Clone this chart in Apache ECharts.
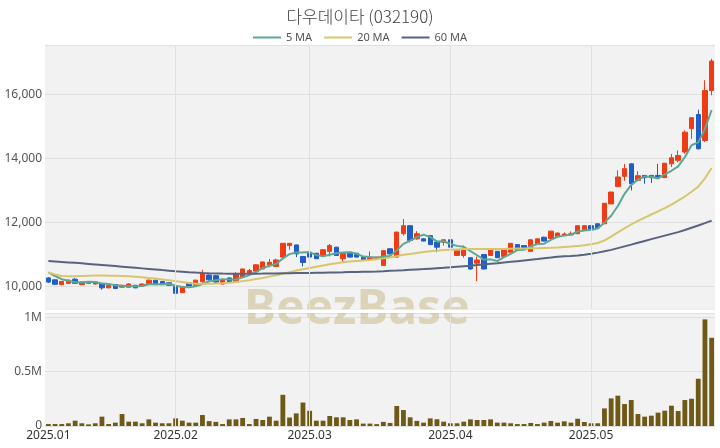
<!DOCTYPE html>
<html><head><meta charset="utf-8">
<script src="https://cdn.jsdelivr.net/npm/echarts@6/dist/echarts.min.js"></script>
<style>html,body{margin:0;padding:0;background:#fff}#c{width:720px;height:448px}</style>
</head><body><div id="c"></div>
<script>
const title = '다우데이타 (032190)';
const dates = [
'2025-01-02','2025-01-03','2025-01-06','2025-01-07','2025-01-08','2025-01-09','2025-01-10','2025-01-13','2025-01-14','2025-01-15',
'2025-01-16','2025-01-17','2025-01-20','2025-01-21','2025-01-22','2025-01-23','2025-01-24','2025-01-27','2025-01-31',
'2025-02-03','2025-02-04','2025-02-05','2025-02-06','2025-02-07','2025-02-10','2025-02-11','2025-02-12','2025-02-13','2025-02-14',
'2025-02-17','2025-02-18','2025-02-19','2025-02-20','2025-02-21','2025-02-24','2025-02-25','2025-02-26','2025-02-27','2025-02-28',
'2025-03-03','2025-03-04','2025-03-05','2025-03-06','2025-03-07','2025-03-10','2025-03-11','2025-03-12','2025-03-13','2025-03-14',
'2025-03-17','2025-03-18','2025-03-19','2025-03-20','2025-03-21','2025-03-24','2025-03-25','2025-03-26','2025-03-27','2025-03-28','2025-03-31',
'2025-04-01','2025-04-02','2025-04-03','2025-04-04','2025-04-07','2025-04-08','2025-04-09','2025-04-10','2025-04-11','2025-04-14',
'2025-04-15','2025-04-16','2025-04-17','2025-04-18','2025-04-21','2025-04-22','2025-04-23','2025-04-24','2025-04-25','2025-04-28','2025-04-29',
'2025-05-02','2025-05-07','2025-05-08','2025-05-09','2025-05-12','2025-05-13','2025-05-14','2025-05-15','2025-05-16','2025-05-19',
'2025-05-20','2025-05-21','2025-05-22','2025-05-23','2025-05-26','2025-05-27','2025-05-28','2025-05-29','2025-05-30'
];
const opens = [
10270,10210,10060,10100,10230,10060,10100,10080,10100,9960,
10060,9980,9980,10040,10020,10080,10200,10160,10120,10000,
9810,10120,10040,10150,10360,10340,10080,10270,10140,10290,
10420,10480,10550,10680,10630,10920,11280,11300,10940,11070,
11040,10970,11100,11230,10870,11070,11040,10920,10840,10860,
10660,11180,10920,11650,11900,11490,11490,11590,11390,11380,
11460,10970,10970,10900,10730,11000,10970,11100,10940,11070,
11310,11280,11100,11330,11540,11500,11560,11600,11610,11650,
11770,11900,11960,11960,12580,13120,13440,13830,13320,13470,
13470,13470,13400,13830,13940,14200,14930,15370,14560,16120
];
const closes = [
10140,10070,10160,10200,10100,10140,10140,10140,9960,10040,
9940,10040,10080,9960,10080,10200,10060,10060,10040,9790,
10000,10020,10200,10400,10210,10140,10210,10140,10400,10550,
10500,10680,10770,10760,10830,11350,11350,11020,10750,10920,
10870,11150,11280,10970,11040,10920,10920,10830,10900,10920,
11120,11020,11700,11900,11440,11650,11420,11310,11230,11460,
11230,11120,11160,10550,10830,10550,11150,10900,11150,11350,
11150,11180,11460,11490,11420,11730,11670,11640,11650,11900,
11900,11770,11830,12600,12950,13420,13680,13210,13460,13400,
13400,13400,13850,14020,14090,14820,15270,14300,16120,17040
];
const lows = [
10110,10050,10040,10090,10090,10050,10090,10070,9900,9950,
9920,9970,9970,9950,10010,10070,10050,10050,10030,9720,
9800,10010,10030,10080,10190,10120,10070,10120,10130,10280,
10400,10470,10540,10600,10620,10900,11150,10920,10630,10520,
10860,10920,10940,10960,10760,10910,10910,10820,10830,10850,
10650,11010,10910,11590,11380,11460,11410,11300,11070,11280,
11220,10960,10900,10520,10170,10530,10960,10890,10930,11060,
11140,11170,11090,11320,11410,11490,11550,11580,11600,11640,
11760,11760,11820,11950,12570,13100,13300,13000,13290,13210,
13230,13380,13390,13730,13880,14150,14610,14280,14510,15970
];
const highs = [
10300,10230,10170,10220,10270,10150,10160,10150,10110,10050,
10070,10050,10100,10050,10090,10220,10210,10170,10130,10010,
10010,10130,10210,10520,10380,10350,10220,10280,10450,10560,
10550,10690,10780,10860,10870,11360,11360,11310,10950,11100,
11050,11160,11330,11240,11050,11080,11050,10930,11100,10930,
11130,11190,11710,12110,11910,11730,11500,11600,11400,11470,
11470,11130,11280,10910,10940,11010,11160,11110,11160,11360,
11320,11290,11470,11500,11560,11740,11690,11690,11720,11910,
11920,11910,11970,12610,12960,13630,13830,13840,13600,13480,
13480,13830,13860,14140,14250,14870,15280,15520,16440,17110
];
const volumes = [
18000,18000,18000,25000,49000,25000,15000,25000,86000,18000,
31000,110000,40000,40000,25000,61000,31000,25000,25000,70000,
49000,31000,31000,101000,45000,38000,18000,61000,61000,74000,
18000,65000,55000,86000,49000,287000,78000,116000,216000,140000,
49000,49000,92000,80000,80000,55000,61000,22000,22000,17000,
38000,28000,184000,147000,80000,47000,31000,70000,62000,40000,
25000,25000,40000,61000,55000,55000,61000,31000,31000,25000,
18000,18000,28000,18000,31000,46000,31000,43000,31000,67000,
37000,25000,25000,162000,254000,279000,202000,239000,110000,86000,
95000,123000,141000,187000,138000,239000,251000,435000,981000,812000
];
// MA5 first values (depend on prior history)
const ma5Start = [10440,10330,10230,10180];
const ma20 = [
10440,10380,10330,10320,10320,10330,10340,10345,10345,10340,
10335,10330,10320,10305,10290,10270,10250,10220,10195,10170,
10140,10110,10090,10085,10090,10095,10105,10120,10140,10170,
10200,10235,10270,10310,10350,10400,10450,10500,10540,10580,
10620,10660,10700,10730,10760,10780,10800,10815,10830,10850,
10880,10910,10950,10990,11020,11050,11080,11100,11120,11140,
11150,11160,11170,11175,11175,11170,11170,11170,11175,11180,
11185,11190,11195,11200,11205,11210,11220,11235,11250,11270,
11290,11320,11360,11440,11560,11690,11820,11940,12050,12150,
12250,12350,12450,12560,12680,12810,12960,13120,13380,13700
];
const ma60 = [
10800,10785,10770,10755,10740,10725,10708,10691,10674,10657,
10640,10622,10604,10586,10568,10550,10532,10514,10497,10480,
10465,10450,10437,10426,10417,10410,10405,10402,10400,10400,
10401,10403,10405,10408,10411,10414,10417,10420,10423,10426,
10430,10434,10438,10442,10446,10451,10456,10461,10466,10472,
10480,10490,10500,10511,10523,10535,10547,10560,10573,10586,
10600,10617,10634,10651,10670,10690,10710,10730,10751,10772,
10794,10816,10838,10860,10883,10906,10930,10945,10958,10972,
10995,11025,11060,11100,11145,11200,11255,11310,11370,11425,
11480,11535,11590,11645,11700,11765,11835,11905,11980,12060
];

const UP = '#ee3d16', DOWN = '#1f5ec8';
const C5 = '#5ea792', C20 = '#d7c66c', C60 = '#596380';
const ohlc = dates.map((d,i)=>[opens[i],closes[i],lows[i],highs[i]]);
const ma5 = closes.map((c,i)=>{
  if (i < 4) return ma5Start[i];
  let s = 0; for (let k=i-4;k<=i;k++) s += closes[k];
  return Math.round(s/5);
});
const monthStarts = dates.filter((d,i)=> i===0 || d.slice(0,7)!==dates[i-1].slice(0,7));
const isMonthStart = (v)=> monthStarts.indexOf(v) >= 0;
const gridLineData = monthStarts.slice(1).map(d=>({xAxis:d}));
const markStyle = {silent:true, symbol:['none','none'], label:{show:false},
  lineStyle:{color:'#e0e0e0', type:'solid', width:1}, emphasis:{disabled:true}, animation:false, data:gridLineData};

const chart = echarts.init(document.getElementById('c'));
chart.setOption({
  animation:false,
  backgroundColor:'#ffffff',
  title:{text:title, left:'center', top:3, textStyle:{fontFamily:'Noto Sans CJK KR', fontWeight:300, fontSize:17, color:'#444'}},
  legend:{top:27, left:'center', icon:'rect', itemWidth:28, itemHeight:2, itemGap:12,
    data:[{name:'5 MA', itemStyle:{color:C5}},{name:'20 MA', itemStyle:{color:C20}},{name:'60 MA', itemStyle:{color:C60}}],
    textStyle:{fontFamily:'Noto Sans', fontSize:11, color:'#555'}},
  graphic:[
    {type:'text', left:244, top:286, z:1, silent:true,
     style:{text:'BeezBase', font:'bold 48px "Noto Sans"', fill:'rgba(200,186,140,0.55)'}},
    {type:'rect', left:45, top:309.5, z:3, silent:true, shape:{width:670, height:3.5}, style:{fill:'#ffffff'}}
  ],
  grid:[
    {left:45, right:5, top:45, height:264, show:true, backgroundColor:'#f2f2f2', borderWidth:0},
    {left:45, right:5, top:313, height:113, show:true, backgroundColor:'#f2f2f2', borderWidth:0}
  ],
  xAxis:[
    {type:'category', gridIndex:0, data:dates, boundaryGap:true,
     axisLine:{show:false}, axisTick:{show:false}, axisLabel:{show:false}, splitLine:{show:false}},
    {type:'category', gridIndex:1, data:dates, boundaryGap:true,
     axisLine:{show:false}, axisTick:{show:false}, splitLine:{show:false},
     axisLabel:{show:true, interval:(idx,val)=>isMonthStart(val), margin:4,
       formatter:(v)=>v.slice(0,4)+'.'+v.slice(5,7), fontFamily:'Noto Sans', fontSize:12, color:'#333'}}
  ],
  yAxis:[
    {type:'value', gridIndex:0, min:9300, max:17540, splitNumber:4, scale:true,
     axisLine:{show:false}, axisTick:{show:false},
     axisLabel:{showMinLabel:false, showMaxLabel:false, margin:3, fontFamily:'Noto Sans', fontSize:12, color:'#555',
       formatter:(v)=>v.toLocaleString('en-US')},
     splitLine:{show:true, lineStyle:{color:'#e0e0e0', width:1}}},
    {type:'value', gridIndex:1, min:0, max:1040000, interval:500000,
     axisLine:{show:false}, axisTick:{show:false},
     axisLabel:{showMaxLabel:false, margin:3, fontFamily:'Noto Sans', fontSize:12, color:'#555',
       formatter:(v)=> v===0 ? '0' : (v/1e6)+'M'},
     splitLine:{show:true, lineStyle:{color:'#e0e0e0', width:1}}}
  ],
  series:[
    {name:'grid-main', type:'line', xAxisIndex:0, yAxisIndex:0, data:dates.map(()=>null), z:1, silent:true, markLine:markStyle},
    {name:'grid-vol', type:'line', xAxisIndex:1, yAxisIndex:1, data:dates.map(()=>null), z:1, silent:true, markLine:markStyle},
    {name:'price', type:'candlestick', xAxisIndex:0, yAxisIndex:0, data:ohlc, barWidth:'72%', z:3,
     itemStyle:{color:UP, color0:DOWN, borderColor:UP, borderColor0:DOWN, borderWidth:1}},
    {name:'5 MA', type:'line', xAxisIndex:0, yAxisIndex:0, data:ma5, symbol:'none', z:4,
     lineStyle:{color:C5, width:2}, itemStyle:{color:C5}},
    {name:'20 MA', type:'line', xAxisIndex:0, yAxisIndex:0, data:ma20, symbol:'none', z:4,
     lineStyle:{color:C20, width:2}, itemStyle:{color:C20}},
    {name:'60 MA', type:'line', xAxisIndex:0, yAxisIndex:0, data:ma60, symbol:'none', z:4,
     lineStyle:{color:C60, width:2}, itemStyle:{color:C60}},
    {name:'Volume', type:'bar', xAxisIndex:1, yAxisIndex:1, data:volumes, barWidth:'72%', z:3,
     itemStyle:{color:'#6f5917'}}
  ]
});
</script></body></html>
